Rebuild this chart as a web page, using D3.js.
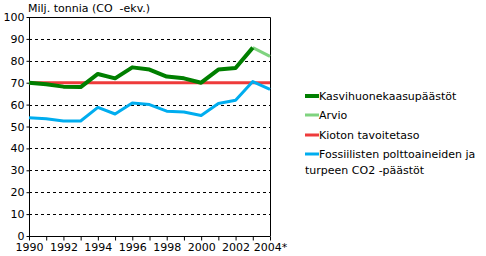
<!DOCTYPE html>
<html>
<head>
<meta charset="utf-8">
<script src="https://cdn.jsdelivr.net/npm/d3@7"></script>
<style>
  body { margin: 0; background: #fff; }
  svg { display: block; font-family: "DejaVu Sans", Verdana, sans-serif; }
  .grid line { stroke: #000; stroke-dasharray: 3,3; }
</style>
</head>
<body>
<svg id="chart" width="486" height="256"></svg>
<script>
//-----------------------------------------------------//

// Data
const years = [1990, 1991, 1992, 1993, 1994, 1995, 1996, 1997, 1998, 1999, 2000, 2001, 2002, 2003];
const ghgValues = [70, 69.3, 68.2, 68, 74, 72, 77, 76, 72.8, 72, 70, 76, 76.7, 86];
const estimateYears = [2003, 2004];
const estimateValues = [86, 82];
const kyotoYears = [1990, 2004];
const kyotoValues = [70, 70];
const fossilYears = [1990, 1991, 1992, 1993, 1994, 1995, 1996, 1997, 1998, 1999, 2000, 2001, 2002, 2003, 2004];
const fossilValues = [54, 53.5, 52.5, 52.5, 58.7, 55.7, 60.7, 60, 57, 56.6, 55, 60.5, 62, 70.5, 67];
const yTicks = [0, 10, 20, 30, 40, 50, 60, 70, 80, 90, 100];
const xLabels = ["1990", "1992", "1994", "1996", "1998", "2000", "2002", "2004*"];
const legendNames = ["Kasvihuonekaasupäästöt", "Arvio", "Kioton tavoitetaso", "Fossiilisten polttoaineiden ja|turpeen CO2 -päästöt"];
const legendColors = ["#007f00", "#7fd37f", "#ee3b3b", "#00adef"];

//-----------------------------------------------------//

const svg = d3.select("#chart");
const plotLeft = 29, plotRight = 270, plotTop = 17, plotBottom = 236;

const x = d3.scaleLinear().domain([1990, 2004]).range([plotLeft, plotRight]);
const y = d3.scaleLinear().domain([0, 100]).range([plotBottom, plotTop]);

// Dashed grid lines (not at 0 and 100, those are the frame)
svg.append("g").attr("class", "grid")
  .selectAll("line")
  .data(yTicks.filter(d => d > 0 && d < 100))
  .enter().append("line")
  .attr("x1", plotLeft).attr("x2", plotRight)
  .attr("y1", d => Math.round(y(d)) + 0.5)
  .attr("y2", d => Math.round(y(d)) + 0.5);

// Frame on top and right side
svg.append("path")
  .attr("d", `M${plotLeft},${plotTop + 0.5}H${plotRight + 0.5}V${plotBottom}`)
  .attr("fill", "none").attr("stroke", "#000");

// Y axis
const yAxis = svg.append("g")
  .attr("transform", `translate(${plotLeft + 0.5},0)`)
  .call(d3.axisLeft(y).tickValues(yTicks).tickSize(3).tickPadding(2));

// X axis, tick for every year but label only every second
const xAxis = svg.append("g")
  .attr("transform", `translate(0,${plotBottom + 0.5})`)
  .call(d3.axisBottom(x).tickValues(d3.range(1990, 2005)).tickSize(4).tickPadding(3)
    .tickFormat(d => (d - 1990) % 2 == 0 ? xLabels[(d - 1990) / 2] : ""));

[yAxis, xAxis].forEach(a => {
  a.select(".domain").attr("stroke", "#000");
  a.selectAll("line").attr("stroke", "#000");
  a.selectAll("text").attr("fill", "#000").style("font-size", "11px")
    .style("font-family", "DejaVu Sans, Verdana, sans-serif");
});
xAxis.select(".domain").attr("d", `M${plotLeft},0H${plotRight + 0.5}`);
yAxis.select(".domain").attr("d", `M0,${plotTop}V${plotBottom}`);

// Title
svg.append("text")
  .attr("x", 28).attr("y", 12)
  .attr("xml:space", "preserve")
  .style("font-size", "11px")
  .text("Milj. tonnia (CO  -ekv.)");

// Lines
const line = d3.line().x(d => x(d[0])).y(d => y(d[1]));

function drawSeries(xs, vs, color, w)
{
  svg.append("path")
    .datum(d3.zip(xs, vs))
    .attr("fill", "none")
    .attr("stroke", color)
    .attr("stroke-width", w)
    .attr("stroke-linejoin", "round")
    .attr("d", line);
}

drawSeries(kyotoYears, kyotoValues, legendColors[2], 3);
drawSeries(fossilYears, fossilValues, legendColors[3], 3);
drawSeries(estimateYears, estimateValues, legendColors[1], 3);
drawSeries(years, ghgValues, legendColors[0], 4);

// Legend
const legendY = [96, 115, 135, 154];
const legend = svg.append("g");
legendNames.forEach((name, i) => {
  legend.append("line")
    .attr("x1", 305).attr("x2", 319)
    .attr("y1", legendY[i]).attr("y2", legendY[i])
    .attr("stroke", legendColors[i]).attr("stroke-width", i == 0 ? 4 : 3);
  name.split("|").forEach((part, j) => {
    legend.append("text")
      .attr("x", j == 0 ? 319 : 305)
      .attr("y", legendY[i] + 4 + j * 16)
      .style("font-size", "11px")
      .text(part);
  });
});
</script>
</body>
</html>
